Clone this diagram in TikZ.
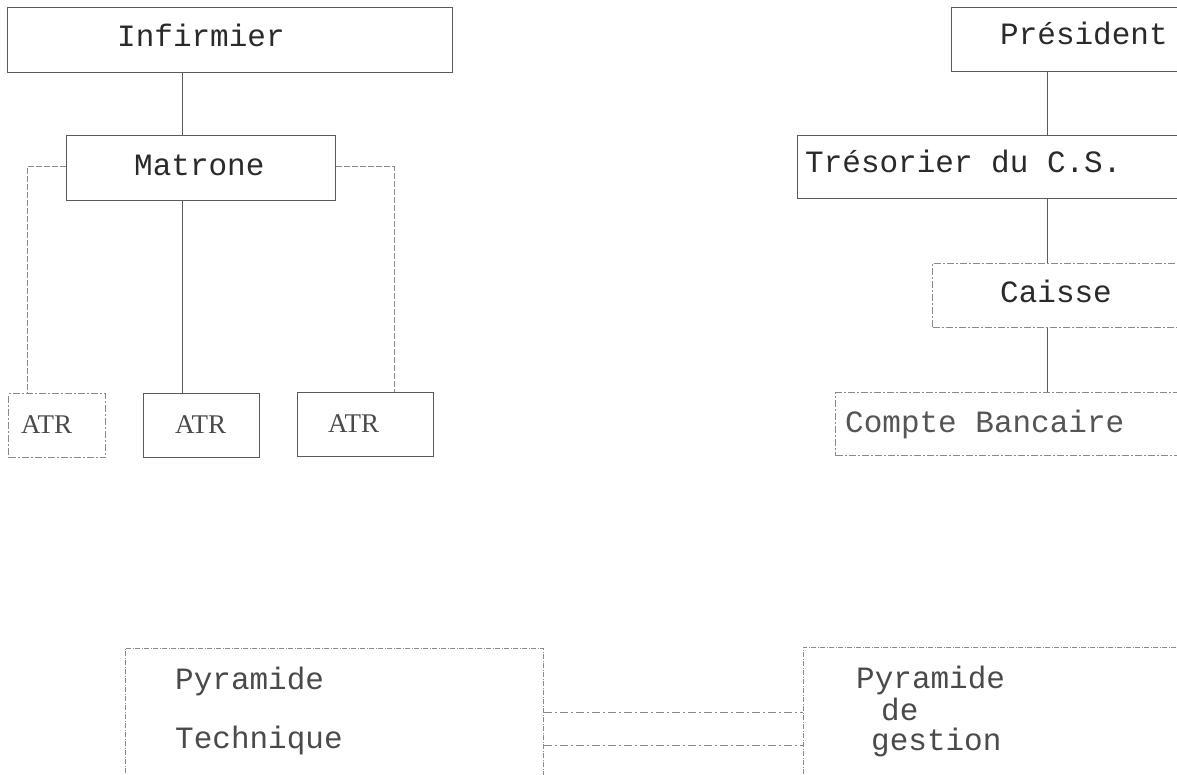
\documentclass[tikz,border=0pt]{standalone}
\usepackage{fontspec}
\setmainfont{Liberation Serif}
\newfontfamily\typewriter{Liberation Mono}
\definecolor{ink}{HTML}{2A2A2A}
\definecolor{rule}{HTML}{5A5A5A}
\definecolor{faint}{HTML}{8A8A8A}
\begin{document}
\begin{tikzpicture}[x=1pt,y=-1pt,
  box/.style={draw=rule, line width=1pt, rectangle, inner sep=0pt, anchor=north west},
  softbox/.style={box, draw=faint, dash pattern=on 7pt off 2pt on 2pt off 2pt},
  dotbox/.style={box, draw=faint, line width=0.8pt, dash pattern=on 5pt off 1.5pt on 1pt off 1.5pt},
  txt/.style={inner sep=0pt, anchor=base west, text=ink, font=\typewriter\fontsize{31}{37}\selectfont},
  serif/.style={inner sep=0pt, anchor=base west, text=ink!85, font=\fontsize{27}{32}\selectfont},
  link/.style={draw=rule, line width=1pt},
  softlink/.style={draw=faint, line width=1pt, dash pattern=on 6pt off 2pt},
  dotlink/.style={draw=faint, line width=0.8pt, dash pattern=on 8pt off 3pt on 2pt off 3pt}]
\clip (0,0) rectangle (1177,775);
\fill[white] (0,0) rectangle (1177,775);

% medical hierarchy
\node[box, minimum width=445pt, minimum height=65pt] (inf) at (7,7) {};
\node[box, minimum width=269pt, minimum height=65pt] (mat) at (66,135) {};
\node[softbox, minimum width=97pt, minimum height=64pt] (atra) at (8,393) {};
\node[box, minimum width=116pt, minimum height=64pt] (atrb) at (143,393) {};
\node[box, minimum width=136pt, minimum height=64pt] (atrc) at (297,392) {};

\node[txt] (tinf) at (117,47) {Infirmier};
\node[txt] (tmat) at (134,176) {Matrone};
\node[serif] (tatra) at (21,433) {ATR};
\node[serif] (tatrb) at (175,433) {ATR};
\node[serif] (tatrc) at (328,432) {ATR};

\coordinate (xmid) at (182,0);
\coordinate (xleft) at (27,167);
\coordinate (xright) at (394,167);
\draw[link] (inf.south -| xmid) -- (mat.north -| xmid);
\draw[link] (mat.south -| xmid) -- (atrb.north -| xmid);
\draw[softlink] (mat.west |- xleft) -- (xleft) -- (atra.north -| xleft);
\draw[softlink] (mat.east |- xright) -- (xright) -- (atrc.north -| xright);

% management hierarchy
\node[box, minimum width=240pt, minimum height=64pt] (pres) at (951,7) {};
\node[box, minimum width=393pt, minimum height=63pt] (tres) at (797,135) {};
\node[softbox, minimum width=258pt, minimum height=64pt] (cais) at (932,263) {};
\node[softbox, minimum width=355pt, minimum height=63pt] (cpte) at (835,392) {};

\node[txt] (tpres) at (1000,45) {Président};
\node[txt] (ttres) at (805,173) {Trésorier du C.S.};
\node[txt] (tcais) at (1000,303) {Caisse};
\node[txt, text=ink!80] (tcpte) at (845,432) {Compte Bancaire};

\coordinate (xr) at (1047,0);
\draw[link] (pres.south -| xr) -- (tres.north -| xr);
\draw[link] (tres.south -| xr) -- (cais.north -| xr);
\draw[link] (cais.south -| xr) -- (cpte.north -| xr);

% the two pyramids
\node[dotbox, minimum width=418pt, minimum height=160pt] (pyt) at (125,648) {};
\node[dotbox, minimum width=390pt, minimum height=160pt] (pyg) at (803,647) {};

\node[txt, text=ink!85] (tpa) at (175,689) {Pyramide};
\node[txt, text=ink!85] (tpb) at (175,748) {Technique};
\node[txt, text=ink!85] (tga) at (856,688) {Pyramide};
\node[txt, text=ink!85] (tgb) at (881,720) {de};
\node[txt, text=ink!85] (tgc) at (871,750) {gestion};

\coordinate (ya) at (0,712);
\coordinate (yb) at (0,745);
\draw[dotlink] (pyt.east |- ya) -- (pyg.west |- ya);
\draw[dotlink] (pyt.east |- yb) -- (pyg.west |- yb);
\end{tikzpicture}
\end{document}
